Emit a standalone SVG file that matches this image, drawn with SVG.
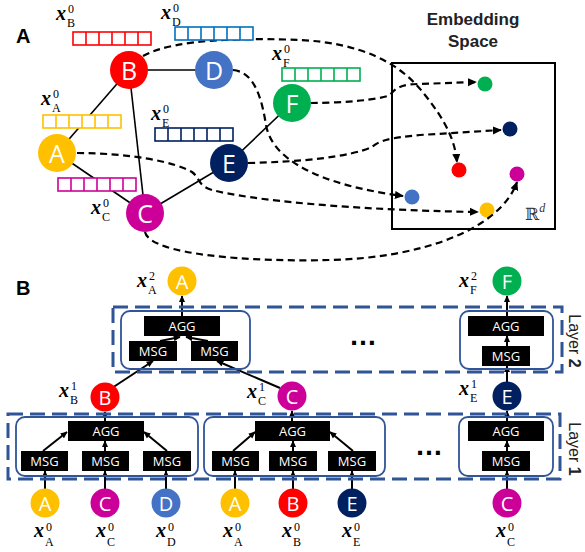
<svg xmlns="http://www.w3.org/2000/svg" xmlns:xlink="http://www.w3.org/1999/xlink" width="585" height="552" viewBox="0 0 585 552">
<style>
.lbl{font-family:"Liberation Sans",Arial,sans-serif;font-weight:bold;font-size:20px;fill:#000}
.emb{font-family:"Liberation Sans",Arial,sans-serif;font-weight:bold;font-size:17px;fill:#222;text-anchor:middle}
.nl{font-family:"Open Sans",sans-serif;font-size:25px;fill:#fff;text-anchor:middle;dominant-baseline:central}
.ns{font-family:"Open Sans",sans-serif;font-size:20px;fill:#fff;text-anchor:middle;dominant-baseline:central}
.mx{font-family:"Liberation Serif",serif;font-style:italic;font-weight:bold;font-size:20px;fill:#000}
.ms{font-family:"Liberation Serif",serif;font-size:12px;fill:#000}
.box{fill:#000}
.bt{font-family:"Open Sans",sans-serif;font-size:13px;fill:#fff;text-anchor:middle;dominant-baseline:central}
.edge{stroke:#000;stroke-width:1.6;fill:none}
.dash{stroke:#000;stroke-width:2.2;fill:none;stroke-dasharray:7 4.5}
.arr{stroke:#000;stroke-width:2;fill:none}
.layer{fill:none;stroke:#2F5597;stroke-width:3;stroke-dasharray:15 7}
.inner{fill:none;stroke:#2F5597;stroke-width:1.8}
.lay{font-family:"Liberation Sans",Arial,sans-serif;font-size:16px;fill:#222;text-anchor:middle}
.dots{font-family:"Liberation Sans",Arial,sans-serif;font-size:28px;font-weight:bold;fill:#000}
</style>
<defs>
<marker id="ah" viewBox="0 0 10 10" refX="9" refY="5" markerWidth="9" markerHeight="9" orient="auto" markerUnits="userSpaceOnUse"><path d="M0,0.5 L10,5 L0,9.5 z" fill="#000"/></marker>
<marker id="as" viewBox="0 0 10 10" refX="9" refY="5" markerWidth="7" markerHeight="7" orient="auto" markerUnits="userSpaceOnUse"><path d="M0,0.5 L10,5 L0,9.5 z" fill="#000"/></marker>
<g id="vec"><rect x="0" y="0" width="78" height="13" fill="#fff" stroke="currentColor" stroke-width="1.6"/><path d="M13 0v13M26 0v13M39 0v13M52 0v13M65 0v13" stroke="currentColor" stroke-width="1.6"/></g>
</defs>
<rect width="585" height="552" fill="#fff"/>
<text class="lbl" x="16" y="43">A</text>
<text class="lbl" x="16" y="295">B</text>
<g id="embedding">
<rect x="392" y="63" width="163" height="166" fill="none" stroke="#000" stroke-width="2"/>
<text class="emb" x="473" y="25">Embedding</text>
<text class="emb" x="473" y="47">Space</text>
<text x="525" y="220" font-family="DejaVu Serif,serif" font-size="17" fill="#333">ℝ<tspan font-family="Liberation Serif,serif" font-style="italic" font-size="12" dy="-8">d</tspan></text>
<circle cx="459" cy="170" r="7.5" fill="#FF0000"/>
<circle cx="510" cy="129" r="7.5" fill="#002060"/>
<circle cx="485" cy="84" r="7.5" fill="#00B050"/>
<circle cx="412" cy="197" r="7.5" fill="#4472C4"/>
<circle cx="487" cy="210" r="7.5" fill="#FFC000"/>
<circle cx="517" cy="174" r="7.5" fill="#CC0099"/>
</g>
<g id="connectors">
<path class="edge" d="M129 70H213"/>
<path class="edge" d="M129 70L57 153"/>
<path class="edge" d="M129 70L145 213"/>
<path class="edge" d="M57 153L145 213"/>
<path class="edge" d="M145 213L229 163"/>
<path class="edge" d="M229 163L292 103"/>
<path class="dash" marker-end="url(#ah)" d="M143,56 C175,38 250,38 300,40 C360,43 400,62 425,95 C445,120 455,140 457,162"/>
<path class="dash" marker-end="url(#ah)" d="M311,103 C340,103 380,100 390,95 C397,86 405,84 420,84 L476,82"/>
<path class="dash" marker-end="url(#ah)" d="M248,163 C300,162 350,157 372,147 C380,140 390,138 420,135 L501,130"/>
<path class="dash" marker-end="url(#ah)" d="M233,70 C255,72 262,100 266,125 C272,160 320,185 403,196"/>
<path class="dash" marker-end="url(#ah)" d="M77,153 C130,153 175,162 192,172 C200,178 198,186 212,190 C250,200 350,210 478,212"/>
<path class="dash" marker-end="url(#ah)" d="M145,232 C150,255 250,262 330,260 C420,258 500,230 517,182"/>
<path class="arr" marker-end="url(#as)" d="M182 316V296"/>
<path class="arr" marker-end="url(#as)" d="M160 341L180 337"/>
<path class="arr" marker-end="url(#as)" d="M208 341L186 337"/>
<path class="arr" marker-end="url(#as)" d="M112 388L153 361"/>
<path class="arr" marker-end="url(#as)" d="M280 388L217 361"/>
<path class="arr" marker-end="url(#as)" d="M507 316V296"/>
<path class="arr" marker-end="url(#as)" d="M507 346V336"/>
<path class="arr" marker-end="url(#as)" d="M507 382V366"/>
<path class="arr" marker-end="url(#as)" d="M105 421V412"/>
<path class="arr" marker-end="url(#as)" d="M43 451L67 432"/>
<path class="arr" marker-end="url(#as)" d="M105 451V441"/>
<path class="arr" marker-end="url(#as)" d="M167 451L144 432"/>
<path class="arr" marker-end="url(#as)" d="M45 489V471"/>
<path class="arr" marker-end="url(#as)" d="M105 489V471"/>
<path class="arr" marker-end="url(#as)" d="M166 489V471"/>
<path class="arr" marker-end="url(#as)" d="M292 421V411"/>
<path class="arr" marker-end="url(#as)" d="M233 451L255 432"/>
<path class="arr" marker-end="url(#as)" d="M293 451V441"/>
<path class="arr" marker-end="url(#as)" d="M353 451L330 432"/>
<path class="arr" marker-end="url(#as)" d="M235 489V471"/>
<path class="arr" marker-end="url(#as)" d="M293 489V471"/>
<path class="arr" marker-end="url(#as)" d="M352 489V471"/>
<path class="arr" marker-end="url(#as)" d="M507 421V411"/>
<path class="arr" marker-end="url(#as)" d="M507 451V441"/>
<path class="arr" marker-end="url(#as)" d="M507 489V471"/>
</g>
<g id="vectors">
<use xlink:href="#vec" href="#vec" x="73" y="32" style="color:#FF0000"/>
<use xlink:href="#vec" href="#vec" x="175" y="27" style="color:#0070C0"/>
<use xlink:href="#vec" href="#vec" x="43" y="115" style="color:#FFC000"/>
<use xlink:href="#vec" href="#vec" x="155" y="128" style="color:#002060"/>
<use xlink:href="#vec" href="#vec" x="58" y="178" style="color:#CC0099"/>
<use xlink:href="#vec" href="#vec" x="282" y="68" style="color:#00B050"/>
</g>
<g id="node-B"><circle cx="129" cy="70" r="19" fill="#FF0000"/><text class="nl" x="129" y="70">B</text></g>
<g id="node-D"><circle cx="214" cy="70" r="19" fill="#4472C4"/><text class="nl" x="214" y="70">D</text></g>
<g id="node-F"><circle cx="292" cy="103" r="19" fill="#00B050"/><text class="nl" x="292" y="103">F</text></g>
<g id="node-A"><circle cx="57" cy="153" r="19" fill="#FFC000"/><text class="nl" x="57" y="153">A</text></g>
<g id="node-E"><circle cx="229" cy="163" r="19" fill="#002060"/><text class="nl" x="229" y="163">E</text></g>
<g id="node-C"><circle cx="145" cy="213" r="19" fill="#CC0099"/><text class="nl" x="145" y="213">C</text></g>
<g id="labels-A">
<text class="mx" x="56" y="20">x</text><text class="ms" x="68" y="13">0</text><text class="ms" x="67" y="27">B</text>
<text class="mx" x="161" y="19">x</text><text class="ms" x="173" y="12">0</text><text class="ms" x="172" y="26">D</text>
<text class="mx" x="41" y="105">x</text><text class="ms" x="53" y="98">0</text><text class="ms" x="52" y="112">A</text>
<text class="mx" x="151" y="120">x</text><text class="ms" x="163" y="113">0</text><text class="ms" x="162" y="127">E</text>
<text class="mx" x="91" y="214">x</text><text class="ms" x="103" y="207">0</text><text class="ms" x="102" y="221">C</text>
<text class="mx" x="272" y="60">x</text><text class="ms" x="284" y="53">0</text><text class="ms" x="283" y="67">F</text>
</g>
<g id="layer2">
<rect class="layer" x="113" y="307" width="449" height="65"/>
<rect class="inner" x="121" y="311" width="129" height="58" rx="9"/>
<rect class="inner" x="460" y="311" width="93" height="58" rx="9"/>
<rect class="box" x="144" y="316" width="76" height="20"/><text class="bt" x="182" y="326">AGG</text>
<rect class="box" x="129" y="341" width="48" height="20"/><text class="bt" x="153" y="351">MSG</text>
<rect class="box" x="191" y="341" width="47" height="20"/><text class="bt" x="214.5" y="351">MSG</text>
<rect class="box" x="468" y="316" width="76" height="20"/><text class="bt" x="506" y="326">AGG</text>
<rect class="box" x="482" y="346" width="48" height="20"/><text class="bt" x="506" y="356">MSG</text>
<text class="dots" x="349" y="345">…</text>
<text class="lay" transform="translate(569,341) rotate(90)">Layer <tspan font-weight="bold">2</tspan></text>
</g>
<g id="layer1">
<rect class="layer" x="8" y="414" width="552" height="65"/>
<rect class="inner" x="16" y="417" width="182" height="59" rx="9"/>
<rect class="inner" x="204" y="417" width="181" height="59" rx="9"/>
<rect class="inner" x="459" y="417" width="94" height="59" rx="9"/>
<rect class="box" x="68" y="421" width="76" height="20"/><text class="bt" x="106" y="431">AGG</text>
<rect class="box" x="21" y="451" width="47" height="20"/><text class="bt" x="44.5" y="461">MSG</text>
<rect class="box" x="82" y="451" width="47" height="20"/><text class="bt" x="105.5" y="461">MSG</text>
<rect class="box" x="143" y="451" width="48" height="20"/><text class="bt" x="167" y="461">MSG</text>
<rect class="box" x="255" y="421" width="75" height="20"/><text class="bt" x="292.5" y="431">AGG</text>
<rect class="box" x="212" y="451" width="47" height="20"/><text class="bt" x="235.5" y="461">MSG</text>
<rect class="box" x="269" y="451" width="48" height="20"/><text class="bt" x="293" y="461">MSG</text>
<rect class="box" x="328" y="451" width="48" height="20"/><text class="bt" x="352" y="461">MSG</text>
<rect class="box" x="468" y="421" width="76" height="20"/><text class="bt" x="506" y="431">AGG</text>
<rect class="box" x="482" y="451" width="48" height="20"/><text class="bt" x="506" y="461">MSG</text>
<text class="dots" x="415" y="455">…</text>
<text class="lay" transform="translate(569,449) rotate(90)">Layer <tspan font-weight="bold">1</tspan></text>
</g>
<g id="node-A2"><circle cx="182" cy="281" r="14.5" fill="#FFC000"/><text class="ns" x="182" y="281">A</text></g>
<g id="node-F2"><circle cx="507" cy="281" r="14.5" fill="#00B050"/><text class="ns" x="507" y="281">F</text></g>
<g id="node-B1"><circle cx="105" cy="397" r="14.5" fill="#FF0000"/><text class="ns" x="105" y="397">B</text></g>
<g id="node-C1"><circle cx="292" cy="396" r="14.5" fill="#CC0099"/><text class="ns" x="292" y="396">C</text></g>
<g id="node-E1"><circle cx="507" cy="396" r="14.5" fill="#002060"/><text class="ns" x="507" y="396">E</text></g>
<g id="node-A0a"><circle cx="45" cy="503" r="14.5" fill="#FFC000"/><text class="ns" x="45" y="503">A</text></g>
<g id="node-C0a"><circle cx="105" cy="503" r="14.5" fill="#CC0099"/><text class="ns" x="105" y="503">C</text></g>
<g id="node-D0"><circle cx="166" cy="503" r="14.5" fill="#4472C4"/><text class="ns" x="166" y="503">D</text></g>
<g id="node-A0b"><circle cx="235" cy="503" r="14.5" fill="#FFC000"/><text class="ns" x="235" y="503">A</text></g>
<g id="node-B0"><circle cx="293" cy="503" r="14.5" fill="#FF0000"/><text class="ns" x="293" y="503">B</text></g>
<g id="node-E0"><circle cx="352" cy="503" r="14.5" fill="#002060"/><text class="ns" x="352" y="503">E</text></g>
<g id="node-C0b"><circle cx="507" cy="503" r="14.5" fill="#CC0099"/><text class="ns" x="507" y="503">C</text></g>
<g id="labels-B">
<text class="mx" x="137" y="287">x</text><text class="ms" x="149" y="280">2</text><text class="ms" x="148" y="294">A</text>
<text class="mx" x="459" y="287">x</text><text class="ms" x="471" y="280">2</text><text class="ms" x="470" y="294">F</text>
<text class="mx" x="59" y="397">x</text><text class="ms" x="71" y="390">1</text><text class="ms" x="70" y="404">B</text>
<text class="mx" x="247" y="398">x</text><text class="ms" x="259" y="391">1</text><text class="ms" x="258" y="405">C</text>
<text class="mx" x="459" y="395">x</text><text class="ms" x="471" y="388">1</text><text class="ms" x="470" y="402">E</text>
<text class="mx" x="34" y="537">x</text><text class="ms" x="46" y="531">0</text><text class="ms" x="45" y="546">A</text>
<text class="mx" x="96" y="537">x</text><text class="ms" x="108" y="531">0</text><text class="ms" x="107" y="546">C</text>
<text class="mx" x="156" y="537">x</text><text class="ms" x="168" y="531">0</text><text class="ms" x="167" y="546">D</text>
<text class="mx" x="223" y="537">x</text><text class="ms" x="235" y="531">0</text><text class="ms" x="234" y="546">A</text>
<text class="mx" x="282" y="537">x</text><text class="ms" x="294" y="531">0</text><text class="ms" x="293" y="546">B</text>
<text class="mx" x="342" y="537">x</text><text class="ms" x="354" y="531">0</text><text class="ms" x="353" y="546">E</text>
<text class="mx" x="496" y="537">x</text><text class="ms" x="508" y="531">0</text><text class="ms" x="507" y="546">C</text>
</g>
</svg>
